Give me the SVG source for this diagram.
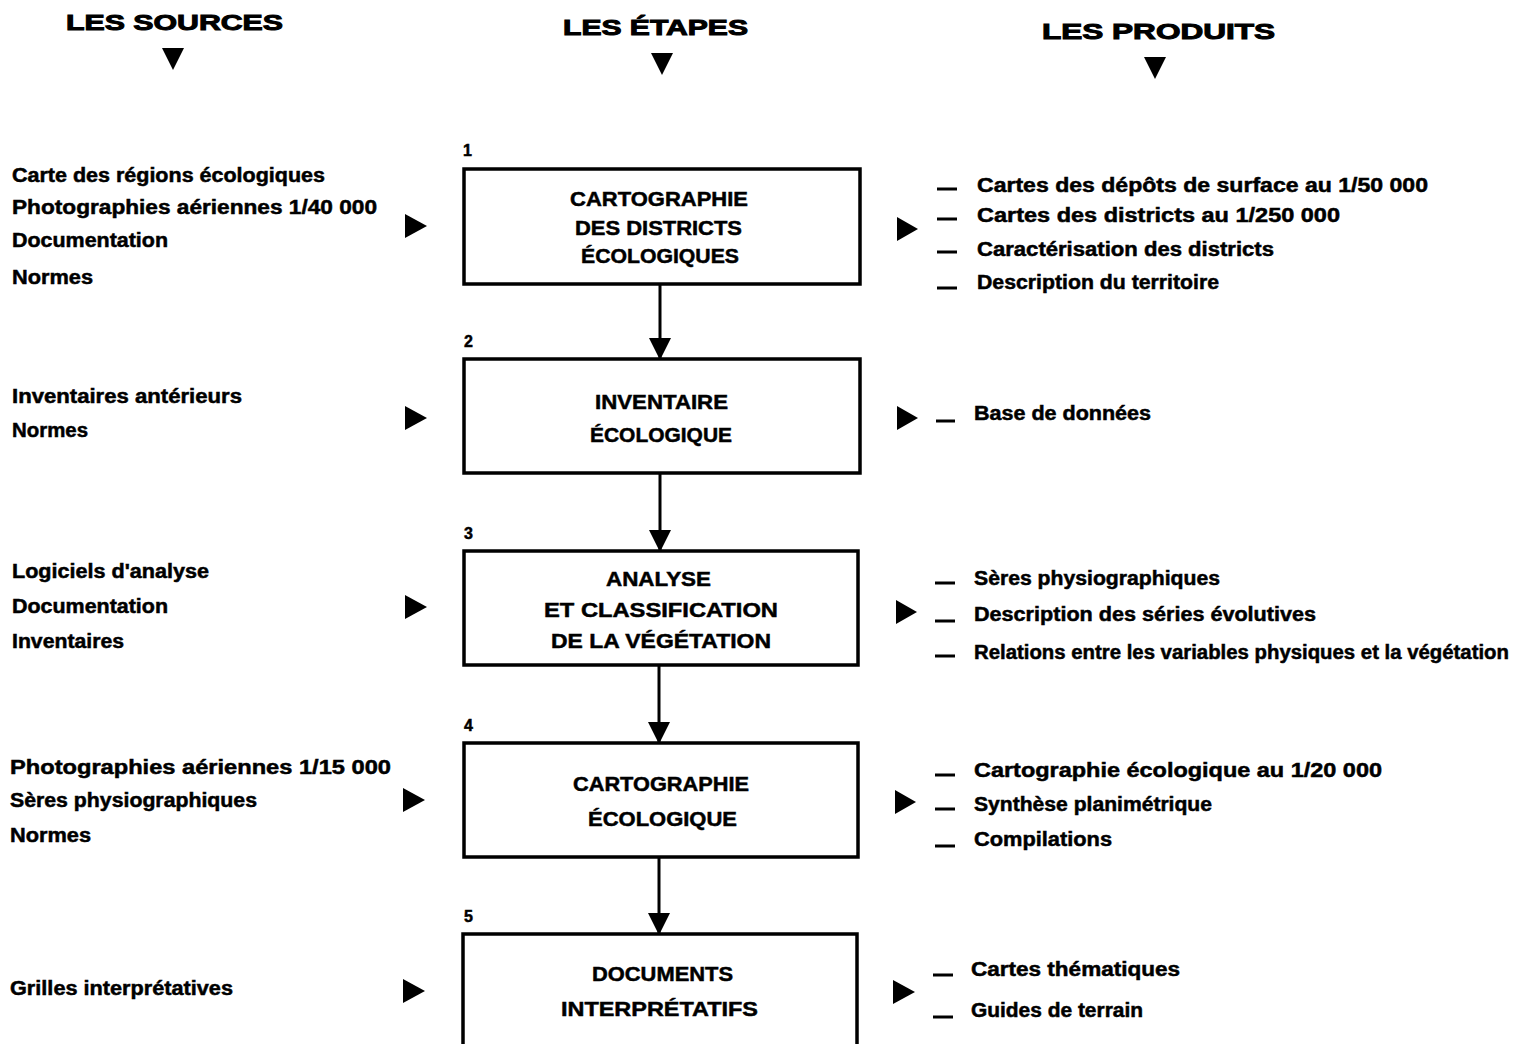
<svg xmlns="http://www.w3.org/2000/svg" width="1528" height="1044" viewBox="0 0 1528 1044">
<defs>
<style>
text{font-family:"Liberation Sans","DejaVu Sans",sans-serif;font-weight:bold;fill:#000;stroke:#000;stroke-width:0.5}
.h{font-size:22px;stroke-width:1}
.b{font-size:21px}
.t{font-size:20px}
.n{font-size:16px}
.box{fill:#fff;stroke:#000;stroke-width:3.5}
.tri{fill:#000}
.dash{stroke:#000;stroke-width:3}
.conn{stroke:#000;stroke-width:3;fill:none}
</style>
<marker id="ah" markerWidth="22" markerHeight="22" refX="11" refY="20" orient="0" markerUnits="userSpaceOnUse" viewBox="0 0 22 22">
<polygon points="0,0 22,0 11,22" fill="#000"/>
</marker>
</defs>
<rect width="1528" height="1044" fill="#fff"/>

<g id="headers">
<text class="h" x="66" y="30" textLength="217" lengthAdjust="spacingAndGlyphs">LES SOURCES</text>
<polygon class="tri" points="162,48 184,48 173,70"/>
<text class="h" x="563" y="35" textLength="185" lengthAdjust="spacingAndGlyphs">LES ÉTAPES</text>
<polygon class="tri" points="651,53 673,53 662,75"/>
<text class="h" x="1042" y="39" textLength="233" lengthAdjust="spacingAndGlyphs">LES PRODUITS</text>
<polygon class="tri" points="1144,57 1166,57 1155,79"/>
</g>

<g id="connectors">
<line class="conn" x1="660" y1="285" x2="660" y2="358" marker-end="url(#ah)"/>
<line class="conn" x1="660" y1="474" x2="660" y2="550" marker-end="url(#ah)"/>
<line class="conn" x1="659" y1="666" x2="659" y2="742" marker-end="url(#ah)"/>
<line class="conn" x1="659" y1="858" x2="659" y2="933" marker-end="url(#ah)"/>
</g>

<g id="step1">
<text class="n" x="463" y="156">1</text>
<rect class="box" x="464" y="169" width="396" height="115"/>
<text class="b" x="570" y="206" textLength="178" lengthAdjust="spacingAndGlyphs">CARTOGRAPHIE</text>
<text class="b" x="575" y="235" textLength="167" lengthAdjust="spacingAndGlyphs">DES DISTRICTS</text>
<text class="b" x="581" y="263" textLength="158" lengthAdjust="spacingAndGlyphs">ÉCOLOGIQUES</text>
</g>
<g id="sources1">
<text class="t" x="12" y="182" textLength="313" lengthAdjust="spacingAndGlyphs">Carte des régions écologiques</text>
<text class="t" x="12" y="214" textLength="365" lengthAdjust="spacingAndGlyphs">Photographies aériennes  1/40 000</text>
<text class="t" x="12" y="247" textLength="156" lengthAdjust="spacingAndGlyphs">Documentation</text>
<text class="t" x="12" y="284" textLength="81" lengthAdjust="spacingAndGlyphs">Normes</text>
<polygon class="tri" points="405,214 427,226 405,238"/>
</g>
<g id="products1">
<polygon class="tri" points="897,217 918,229 897,241"/>
<line class="dash" x1="937" y1="189" x2="957" y2="189"/>
<line class="dash" x1="937" y1="219" x2="957" y2="219"/>
<line class="dash" x1="937" y1="252" x2="957" y2="252"/>
<line class="dash" x1="937" y1="288" x2="957" y2="288"/>
<text class="t" x="977" y="192" textLength="451" lengthAdjust="spacingAndGlyphs">Cartes des dépôts de surface au 1/50 000</text>
<text class="t" x="977" y="222" textLength="363" lengthAdjust="spacingAndGlyphs">Cartes des districts au 1/250 000</text>
<text class="t" x="977" y="256" textLength="297" lengthAdjust="spacingAndGlyphs">Caractérisation des districts</text>
<text class="t" x="977" y="289" textLength="242" lengthAdjust="spacingAndGlyphs">Description du territoire</text>
</g>

<g id="step2">
<text class="n" x="464" y="347">2</text>
<rect class="box" x="464" y="359" width="396" height="114"/>
<text class="b" x="595" y="409" textLength="133" lengthAdjust="spacingAndGlyphs">INVENTAIRE</text>
<text class="b" x="590" y="442" textLength="142" lengthAdjust="spacingAndGlyphs">ÉCOLOGIQUE</text>
</g>
<g id="sources2">
<text class="t" x="12" y="403" textLength="230" lengthAdjust="spacingAndGlyphs">Inventaires antérieurs</text>
<text class="t" x="12" y="437" textLength="76" lengthAdjust="spacingAndGlyphs">Normes</text>
<polygon class="tri" points="405,406 427,418 405,430"/>
</g>
<g id="products2">
<polygon class="tri" points="897,406 918,418 897,430"/>
<line class="dash" x1="936" y1="421" x2="955" y2="421"/>
<text class="t" x="974" y="420" textLength="177" lengthAdjust="spacingAndGlyphs">Base de données</text>
</g>

<g id="step3">
<text class="n" x="464" y="539">3</text>
<rect class="box" x="464" y="551" width="394" height="114"/>
<text class="b" x="606" y="586" textLength="105" lengthAdjust="spacingAndGlyphs">ANALYSE</text>
<text class="b" x="544" y="617" textLength="234" lengthAdjust="spacingAndGlyphs">ET CLASSIFICATION</text>
<text class="b" x="551" y="648" textLength="220" lengthAdjust="spacingAndGlyphs">DE LA VÉGÉTATION</text>
</g>
<g id="sources3">
<text class="t" x="12" y="578" textLength="197" lengthAdjust="spacingAndGlyphs">Logiciels d'analyse</text>
<text class="t" x="12" y="613" textLength="156" lengthAdjust="spacingAndGlyphs">Documentation</text>
<text class="t" x="12" y="648" textLength="112" lengthAdjust="spacingAndGlyphs">Inventaires</text>
<polygon class="tri" points="405,595 427,607 405,619"/>
</g>
<g id="products3">
<polygon class="tri" points="896,600 917,612 896,624"/>
<line class="dash" x1="935" y1="583" x2="955" y2="583"/>
<line class="dash" x1="935" y1="621" x2="955" y2="621"/>
<line class="dash" x1="935" y1="656" x2="955" y2="656"/>
<text class="t" x="974" y="585" textLength="246" lengthAdjust="spacingAndGlyphs">Sères physiographiques</text>
<text class="t" x="974" y="621" textLength="342" lengthAdjust="spacingAndGlyphs">Description des séries évolutives</text>
<text class="t" x="974" y="659" textLength="535" lengthAdjust="spacingAndGlyphs">Relations entre les variables physiques et la végétation</text>
</g>

<g id="step4">
<text class="n" x="464" y="731">4</text>
<rect class="box" x="464" y="743" width="394" height="114"/>
<text class="b" x="573" y="791" textLength="176" lengthAdjust="spacingAndGlyphs">CARTOGRAPHIE</text>
<text class="b" x="588" y="826" textLength="149" lengthAdjust="spacingAndGlyphs">ÉCOLOGIQUE</text>
</g>
<g id="sources4">
<text class="t" x="10" y="774" textLength="381" lengthAdjust="spacingAndGlyphs">Photographies aériennes  1/15 000</text>
<text class="t" x="10" y="807" textLength="247" lengthAdjust="spacingAndGlyphs">Sères physiographiques</text>
<text class="t" x="10" y="842" textLength="81" lengthAdjust="spacingAndGlyphs">Normes</text>
<polygon class="tri" points="403,788 425,800 403,812"/>
</g>
<g id="products4">
<polygon class="tri" points="895,790 916,802 895,814"/>
<line class="dash" x1="935" y1="775" x2="955" y2="775"/>
<line class="dash" x1="935" y1="809" x2="955" y2="809"/>
<line class="dash" x1="935" y1="846" x2="955" y2="846"/>
<text class="t" x="974" y="777" textLength="408" lengthAdjust="spacingAndGlyphs">Cartographie écologique au 1/20 000</text>
<text class="t" x="974" y="811" textLength="238" lengthAdjust="spacingAndGlyphs">Synthèse planimétrique</text>
<text class="t" x="974" y="846" textLength="138" lengthAdjust="spacingAndGlyphs">Compilations</text>
</g>

<g id="step5">
<text class="n" x="464" y="922">5</text>
<rect class="box" x="463" y="934" width="394" height="130"/>
<text class="b" x="592" y="981" textLength="141" lengthAdjust="spacingAndGlyphs">DOCUMENTS</text>
<text class="b" x="561" y="1016" textLength="197" lengthAdjust="spacingAndGlyphs">INTERPRÉTATIFS</text>
</g>
<g id="sources5">
<text class="t" x="10" y="995" textLength="223" lengthAdjust="spacingAndGlyphs">Grilles interprétatives</text>
<polygon class="tri" points="403,979 425,991 403,1003"/>
</g>
<g id="products5">
<polygon class="tri" points="893,980 915,992 893,1004"/>
<line class="dash" x1="933" y1="975" x2="953" y2="975"/>
<line class="dash" x1="933" y1="1017" x2="953" y2="1017"/>
<text class="t" x="971" y="976" textLength="209" lengthAdjust="spacingAndGlyphs">Cartes thématiques</text>
<text class="t" x="971" y="1017" textLength="172" lengthAdjust="spacingAndGlyphs">Guides de terrain</text>
</g>
</svg>
